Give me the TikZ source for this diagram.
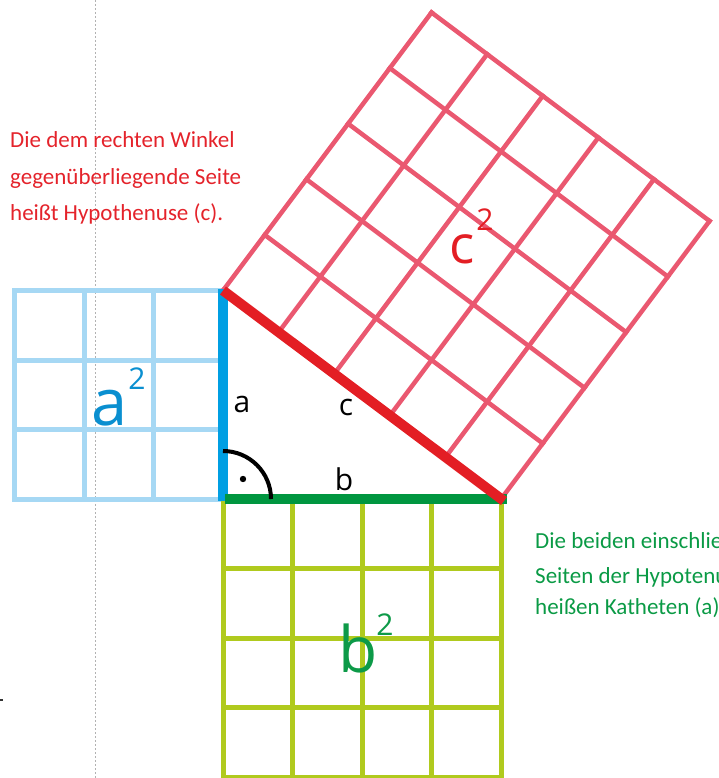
\documentclass[tikz,border=0pt]{standalone}
\usepackage{fontspec}
\setmainfont{Carlito}
\newfontfamily\labfont{Open Sans}
\usetikzlibrary{calc}
\definecolor{agridc}{RGB}{166,216,244}
\definecolor{asidec}{RGB}{0,159,227}
\definecolor{bgridc}{RGB}{176,202,30}
\definecolor{bsidec}{RGB}{0,150,64}
\definecolor{cgridc}{RGB}{234,88,112}
\definecolor{csidec}{RGB}{227,30,36}
\definecolor{alabc}{RGB}{10,143,208}
\definecolor{blabc}{RGB}{13,154,72}
\definecolor{clabc}{RGB}{227,30,36}
\definecolor{notered}{RGB}{228,35,43}
\definecolor{notegreen}{RGB}{10,154,69}
\tikzset{
  agrid/.style={draw=agridc,line width=5pt,line cap=rect},
  bgrid/.style={draw=bgridc,line width=5pt,line cap=rect},
  cgrid/.style={draw=cgridc,line width=4.5pt,line cap=rect},
  sideline/.style={line width=10pt},
  smalllab/.style={inner sep=0pt,anchor=base,font=\labfont\fontsize{30}{34}\selectfont},
  biglab/.style={inner sep=0pt,anchor=base,font=\labfont\fontsize{65}{70}\selectfont},
  sqlab/.style={inner sep=0pt,anchor=base,font=\labfont\fontsize{30}{34}\selectfont},
  note/.style={inner sep=0pt,anchor=base west,font=\fontsize{23}{28}\selectfont},
  guide/.style={draw=black!30,line width=0.8pt,dash pattern=on 2pt off 2pt}
}
\begin{document}
\begin{tikzpicture}[x=1pt,y=-1pt]
\useasboundingbox (0,0) rectangle (718,778);
\clip (0,0) rectangle (718,778);
% guide line
\coordinate (G0) at (95,0);
\coordinate (G1) at (95,778);
\draw[guide] (G0) -- (G1);
\fill[black!80] (0,699) rectangle (3,701);
% triangle vertices
\coordinate (C) at (223,499);
\coordinate (A) at (223,290.5);
\coordinate (B) at (501,499);
\coordinate (D) at ($(A)+(208.5,-278)$);
\coordinate (E) at ($(B)+(208.5,-278)$);
% a^2 square corners
\coordinate (A0) at (14.5,290.5);
\coordinate (A1) at (14.5,499);
% b^2 square corners
\coordinate (B0) at (223,777);
\coordinate (B1) at (501,777);
% grids
\foreach \i in {0,...,3} {
  \draw[agrid] ($(A0)!\i/3!(A)$) -- ($(A1)!\i/3!(C)$);
  \draw[agrid] ($(A0)!\i/3!(A1)$) -- ($(A)!\i/3!(C)$);
}
\foreach \i in {0,...,4} {
  \draw[bgrid] ($(C)!\i/4!(B)$) -- ($(B0)!\i/4!(B1)$);
  \draw[bgrid] ($(C)!\i/4!(B0)$) -- ($(B)!\i/4!(B1)$);
}
\foreach \i in {0,...,5} {
  \draw[cgrid] ($(A)!\i/5!(B)$) -- ($(D)!\i/5!(E)$);
  \draw[cgrid] ($(A)!\i/5!(D)$) -- ($(B)!\i/5!(E)$);
}
% sides
\draw[sideline,draw=asidec] ($(A)+(0,-2)$) -- ($(C)+(0,2)$);
\draw[sideline,draw=bsidec] ($(C)+(2,0)$) -- ($(B)+(6,0)$);
\draw[sideline,draw=csidec] (A) -- ($(B)+(3,2)$);
% right angle
\coordinate (R0) at ($(C)+(0,-48)$);
\draw[line width=4pt] (R0) arc[start angle=-90,end angle=0,radius=48];
\fill ($(C)+(20,-20)$) circle (3.2);
% side labels
\node[smalllab] (la) at (242,412) {a};
\node[smalllab] (lb) at (344,490) {b};
\node[smalllab] (lc) at (346,415) {c};
% square labels
\node[biglab,text=alabc] (sa) at (110,425) {a};
\node[sqlab,text=alabc] (sa2) at (137,389) {2};
\node[biglab,text=blabc,font=\labfont\fontsize{64}{70}\selectfont] (sb) at (358,672) {b};
\node[sqlab,text=blabc] (sb2) at (385,635) {2};
\node[biglab,text=clabc,font=\labfont\fontsize{53}{60}\selectfont] (sc) at (462,263) {c};
\node[sqlab,text=clabc] (sc2) at (485,230) {2};
% notes
\node[note,text=notered] (r1) at (10,148) {Die dem rechten Winkel};
\node[note,text=notered] (r2) at (10,184) {gegenüberliegende Seite};
\node[note,text=notered] (r3) at (10,220) {heißt Hypothenuse (c).};
\node[note,text=notegreen] (g1) at (535,548) {Die beiden einschließenden};
\node[note,text=notegreen] (g2) at (535,583) {Seiten der Hypotenuse};
\node[note,text=notegreen] (g3) at (535,614) {heißen Katheten (a) und (b).};
\end{tikzpicture}
\end{document}
